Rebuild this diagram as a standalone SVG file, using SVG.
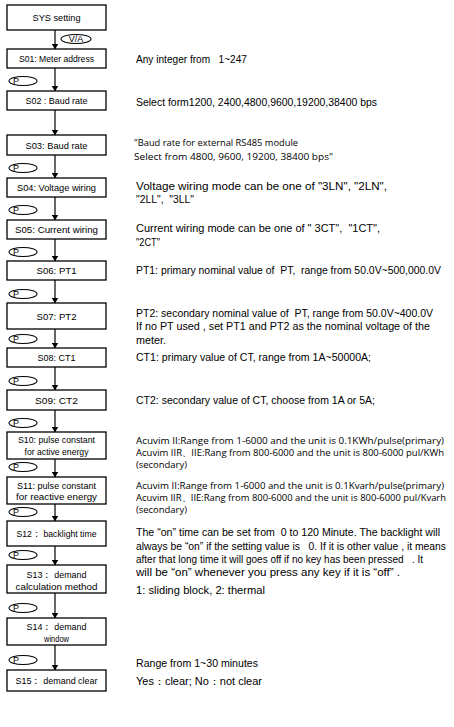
<svg xmlns="http://www.w3.org/2000/svg" width="454" height="727" viewBox="0 0 454 727">
<defs>
<marker id="ah" markerWidth="6" markerHeight="7" refX="5.5" refY="3.5" orient="auto" markerUnits="userSpaceOnUse">
<path d="M0,0 L6,3.5 L0,7 Z" fill="#000"/>
</marker>
<style>
.box{fill:#fff;stroke:#000;stroke-width:1.3}
.bl{font-family:"Liberation Sans",Arial,sans-serif;font-size:9.5px;fill:#000;text-anchor:middle}
.t{font-family:"Liberation Sans",Arial,sans-serif;font-size:10px;fill:#000}
.h{font-family:"Open Sans","Noto Sans",sans-serif;font-size:9.2px;fill:#000}
.ell{fill:#fff;stroke:#000;stroke-width:1.1}
.el{font-family:"Liberation Sans",Arial,sans-serif;font-size:9px;fill:#000}
.ln{stroke:#000;stroke-width:1.2;fill:none;marker-end:url(#ah)}
</style>
</defs>
<rect width="454" height="727" fill="#fff"/>
<g id="connectors">
<line class="ln" x1="55" y1="30" x2="55" y2="49"/>
<line class="ln" x1="55" y1="68" x2="55" y2="91"/>
<line class="ln" x1="55" y1="110" x2="55" y2="135"/>
<line class="ln" x1="55" y1="155" x2="55" y2="178"/>
<line class="ln" x1="55" y1="197" x2="55" y2="220"/>
<line class="ln" x1="55" y1="239" x2="55" y2="261"/>
<line class="ln" x1="55" y1="280" x2="55" y2="303"/>
<line class="ln" x1="55" y1="329" x2="55" y2="348"/>
<line class="ln" x1="55" y1="367" x2="55" y2="390"/>
<line class="ln" x1="55" y1="410" x2="55" y2="432"/>
<line class="ln" x1="55" y1="459" x2="55" y2="477"/>
<line class="ln" x1="55" y1="504" x2="55" y2="521"/>
<line class="ln" x1="55" y1="546" x2="55" y2="565"/>
<line class="ln" x1="55" y1="593" x2="55" y2="618"/>
<line class="ln" x1="55" y1="645" x2="55" y2="670"/>
<g id="lbl-va"><ellipse class="ell" cx="76" cy="39" rx="15" ry="4.5"/><text class="el" x="76" y="42.2" text-anchor="middle">V/A</text></g>
<g id="lbl-p1"><ellipse class="ell" cx="23" cy="81" rx="14" ry="4.5"/><text class="el" x="13" y="84.2">P</text></g>
<g id="lbl-p2"><ellipse class="ell" cx="23" cy="168" rx="14" ry="4.5"/><text class="el" x="13" y="171.2">P</text></g>
<g id="lbl-p3"><ellipse class="ell" cx="23" cy="210" rx="14" ry="4.5"/><text class="el" x="13" y="213.2">P</text></g>
<g id="lbl-p4"><ellipse class="ell" cx="23" cy="252" rx="14" ry="4.5"/><text class="el" x="13" y="255.2">P</text></g>
<g id="lbl-p5"><ellipse class="ell" cx="23" cy="294" rx="14" ry="4.5"/><text class="el" x="13" y="297.2">P</text></g>
<g id="lbl-p6"><ellipse class="ell" cx="23" cy="339" rx="14" ry="4.5"/><text class="el" x="13" y="342.2">P</text></g>
<g id="lbl-p7"><ellipse class="ell" cx="23" cy="381" rx="14" ry="4.5"/><text class="el" x="13" y="384.2">P</text></g>
<g id="lbl-p8"><ellipse class="ell" cx="23" cy="423" rx="14" ry="4.5"/><text class="el" x="13" y="426.2">P</text></g>
<g id="lbl-p9"><ellipse class="ell" cx="23" cy="467" rx="14" ry="4.5"/><text class="el" x="13" y="470.2">P</text></g>
<g id="lbl-p10"><ellipse class="ell" cx="23" cy="512" rx="14" ry="4.5"/><text class="el" x="13" y="515.2">P</text></g>
<g id="lbl-p11"><ellipse class="ell" cx="23" cy="555" rx="14" ry="4.5"/><text class="el" x="13" y="558.2">P</text></g>
<g id="lbl-p12"><ellipse class="ell" cx="23" cy="608" rx="14" ry="4.5"/><text class="el" x="13" y="611.2">P</text></g>
<g id="lbl-p13"><ellipse class="ell" cx="23" cy="660" rx="14" ry="4.5"/><text class="el" x="13" y="663.2">P</text></g>
</g>
<g id="sys"><rect class="box" x="7" y="5" width="99" height="25"/><text class="bl" x="56.5" y="21" textLength="48" lengthAdjust="spacingAndGlyphs">SYS setting</text></g>
<g id="s01"><rect class="box" x="7" y="49" width="99" height="19"/><text class="bl" x="56.5" y="62" textLength="75" lengthAdjust="spacingAndGlyphs">S01: Meter address</text></g>
<g id="s02"><rect class="box" x="7" y="91" width="99" height="19"/><text class="bl" x="56.5" y="104" textLength="62" lengthAdjust="spacingAndGlyphs">S02 :  Baud rate</text></g>
<g id="s03"><rect class="box" x="7" y="135" width="99" height="20"/><text class="bl" x="56.5" y="148.5" textLength="62" lengthAdjust="spacingAndGlyphs">S03:  Baud rate</text></g>
<g id="s04"><rect class="box" x="7" y="178" width="99" height="19"/><text class="bl" x="56.5" y="191" textLength="79" lengthAdjust="spacingAndGlyphs">S04: Voltage wiring</text></g>
<g id="s05"><rect class="box" x="7" y="220" width="99" height="19"/><text class="bl" x="56.5" y="233" textLength="83" lengthAdjust="spacingAndGlyphs">S05: Current wiring</text></g>
<g id="s06"><rect class="box" x="7" y="261" width="99" height="19"/><text class="bl" x="56.5" y="274" textLength="40" lengthAdjust="spacingAndGlyphs">S06: PT1</text></g>
<g id="s07"><rect class="box" x="7" y="303" width="99" height="26"/><text class="bl" x="56.5" y="319.5" textLength="40" lengthAdjust="spacingAndGlyphs">S07: PT2</text></g>
<g id="s08"><rect class="box" x="7" y="348" width="99" height="19"/><text class="bl" x="56.5" y="361" textLength="38" lengthAdjust="spacingAndGlyphs">S08: CT1</text></g>
<g id="s09"><rect class="box" x="7" y="390" width="99" height="20"/><text class="bl" x="56.5" y="403.5" textLength="43" lengthAdjust="spacingAndGlyphs">S09:  CT2</text></g>
<g id="s10"><rect class="box" x="7" y="432" width="99" height="27"/><text class="bl" x="56.5" y="443" textLength="77" lengthAdjust="spacingAndGlyphs">S10: pulse constant</text><text class="bl" x="56.5" y="455" textLength="64" lengthAdjust="spacingAndGlyphs">for active energy</text></g>
<g id="s11"><rect class="box" x="7" y="477" width="99" height="27"/><text class="bl" x="56.5" y="488.5" textLength="79" lengthAdjust="spacingAndGlyphs">S11: pulse constant</text><text class="bl" x="56.5" y="500" textLength="81" lengthAdjust="spacingAndGlyphs">for reactive energy</text></g>
<g id="s12"><rect class="box" x="7" y="521" width="99" height="25"/><text class="bl" x="56.5" y="537" textLength="80" lengthAdjust="spacingAndGlyphs">S12：  backlight time</text></g>
<g id="s13"><rect class="box" x="7" y="565" width="99" height="28"/><text class="bl" x="56.5" y="577.5" textLength="60" lengthAdjust="spacingAndGlyphs">S13：  demand</text><text class="bl" x="56.5" y="590" textLength="82" lengthAdjust="spacingAndGlyphs">calculation method</text></g>
<g id="s14"><rect class="box" x="7" y="618" width="99" height="27"/><text class="bl" x="56.5" y="630" textLength="60" lengthAdjust="spacingAndGlyphs">S14：  demand</text><text class="bl" x="56.5" y="642" textLength="25" lengthAdjust="spacingAndGlyphs">window</text></g>
<g id="s15"><rect class="box" x="7" y="670" width="99" height="21"/><text class="bl" x="56.5" y="684" textLength="82" lengthAdjust="spacingAndGlyphs">S15：  demand clear</text></g>
<g id="notes">
<text class="t" x="136" y="62.5" textLength="111" lengthAdjust="spacingAndGlyphs" xml:space="preserve">Any integer from   1~247</text>
<text class="t" x="136" y="105.5" textLength="241" lengthAdjust="spacingAndGlyphs">Select form1200, 2400,4800,9600,19200,38400 bps</text>
<text class="h" x="134" y="145.5" textLength="164" lengthAdjust="spacingAndGlyphs">"Baud rate for external RS485 module</text>
<text class="h" x="134" y="159.5" textLength="199" lengthAdjust="spacingAndGlyphs">Select from 4800, 9600, 19200, 38400 bps"</text>
<text class="t" x="136" y="189.5" textLength="251" lengthAdjust="spacingAndGlyphs">Voltage wiring mode can be one of "3LN", "2LN",</text>
<text class="t" x="136" y="202.5" textLength="58" lengthAdjust="spacingAndGlyphs" xml:space="preserve">"2LL",  "3LL"</text>
<text class="t" x="136" y="231.5" textLength="244" lengthAdjust="spacingAndGlyphs" xml:space="preserve">Current wiring mode can be one of " 3CT",  "1CT",</text>
<text class="t" x="136" y="245.5" textLength="24" lengthAdjust="spacingAndGlyphs">"2CT"</text>
<text class="t" x="136" y="273.5" textLength="305" lengthAdjust="spacingAndGlyphs" xml:space="preserve">PT1: primary nominal value of  PT,  range from 50.0V~500,000.0V</text>
<text class="t" x="136" y="316.5" textLength="297" lengthAdjust="spacingAndGlyphs" xml:space="preserve">PT2: secondary nominal value of  PT, range from 50.0V~400.0V</text>
<text class="t" x="136" y="329.5" textLength="294" lengthAdjust="spacingAndGlyphs">If no PT used , set PT1 and PT2 as the nominal voltage of the</text>
<text class="t" x="136" y="343.5" textLength="30" lengthAdjust="spacingAndGlyphs">meter.</text>
<text class="t" x="136" y="360.5" textLength="235" lengthAdjust="spacingAndGlyphs">CT1: primary value of CT, range from 1A~50000A;</text>
<text class="t" x="136" y="403.5" textLength="239" lengthAdjust="spacingAndGlyphs">CT2: secondary value of CT, choose from 1A or 5A;</text>
<text class="h" x="136" y="443.5" textLength="308" lengthAdjust="spacingAndGlyphs">Acuvim II:Range from 1-6000 and the unit is 0.1KWh/pulse(primary)</text>
<text class="h" x="136" y="455.5" textLength="308" lengthAdjust="spacingAndGlyphs">Acuvim IIR、IIE:Rang from 800-6000 and the unit is 800-6000 pul/KWh</text>
<text class="h" x="136" y="467.5" textLength="51" lengthAdjust="spacingAndGlyphs">(secondary)</text>
<text class="h" x="136" y="488.5" textLength="308" lengthAdjust="spacingAndGlyphs">Acuvim II:Range from 1-6000 and the unit is 0.1Kvarh/pulse(primary)</text>
<text class="h" x="136" y="500.5" textLength="310" lengthAdjust="spacingAndGlyphs">Acuvim IIR、IIE:Rang from 800-6000 and the unit is 800-6000 pul/Kvarh</text>
<text class="h" x="136" y="512.5" textLength="51" lengthAdjust="spacingAndGlyphs">(secondary)</text>
<text class="t" x="136" y="535.5" textLength="304" lengthAdjust="spacingAndGlyphs" xml:space="preserve">The “on” time can be set from  0 to 120 Minute. The backlight will</text>
<text class="t" x="136" y="549.5" textLength="310" lengthAdjust="spacingAndGlyphs" xml:space="preserve">always be “on” if the setting value is   0. If it is other value , it means</text>
<text class="t" x="136" y="562.5" textLength="287" lengthAdjust="spacingAndGlyphs" xml:space="preserve">after that long time it will goes off if no key has been pressed   . It</text>
<text class="t" x="136" y="575.5" textLength="264" lengthAdjust="spacingAndGlyphs">will be “on” whenever you press any key if it is “off” .</text>
<text class="t" x="136" y="593.5" textLength="129" lengthAdjust="spacingAndGlyphs">1: sliding block, 2: thermal</text>
<text class="t" x="136" y="666.5" textLength="122" lengthAdjust="spacingAndGlyphs">Range from 1~30 minutes</text>
<text class="t" x="136" y="684.5" textLength="126" lengthAdjust="spacingAndGlyphs">Yes：clear; No：not clear</text>
</g>
</svg>
